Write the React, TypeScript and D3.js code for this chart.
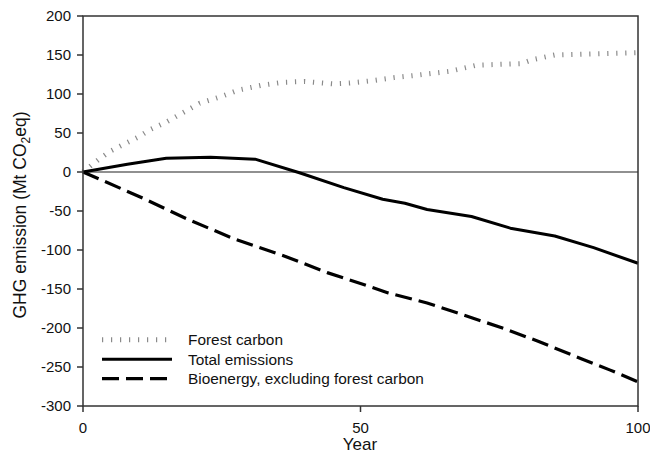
import React from "react";
import * as d3 from "d3";

const forestYears = [0, 3, 5, 10, 12, 15, 21, 25, 28, 32, 36, 40, 45, 48, 52, 56, 60, 66, 71, 75, 79, 81, 85, 90, 95, 100];
const forestValues = [0, 17, 27, 45, 54, 64, 88, 97, 105, 111, 115, 116, 113, 114, 117, 121, 124, 129, 137, 138, 139, 144, 150, 151, 152, 153];

const totalYears = [0, 8, 15, 23, 31, 39, 47, 54, 58, 62, 70, 77, 85, 92, 100];
const totalValues = [0, 10, 17.5, 19, 16.5, -1, -20, -35, -40, -48, -57, -72, -82, -97, -117];

const bioYears = [0, 10, 19, 27, 31, 36, 44, 50, 55, 62, 68, 76, 82, 90, 95, 100];
const bioValues = [0, -31, -61, -85, -95, -107, -129, -143, -155, -168, -182, -201, -217, -240, -254, -269];

const yTicks = [200, 150, 100, 50, 0, -50, -100, -150, -200, -250, -300];
const xTicks = [0, 50, 100];

const legendLabels = ["Forest carbon", "Total emissions", "Bioenergy, excluding forest carbon"];

export default function App() {
  const W = 650, H = 454;
  const x = d3.scaleLinear().domain([0, 100]).range([83, 638]);
  const y = d3.scaleLinear().domain([-300, 200]).range([406, 16]);
  const line = d3.line<[number, number]>().x(d => x(d[0])).y(d => y(d[1]));
  const zip = (a: number[], b: number[]) => a.map((v, i) => [v, b[i]] as [number, number]);
  const font = "'Liberation Sans', Arial, sans-serif";
  const axisColor = "#333";

  const styles = [
    { stroke: "#8a8a8a", width: 5, dash: "1.2 7.8" },
    { stroke: "#000", width: 3, dash: "none" },
    { stroke: "#000", width: 3.2, dash: "17 7" },
  ];
  const series = [zip(forestYears, forestValues), zip(totalYears, totalValues), zip(bioYears, bioValues)];
  const legendY = [y(-215), y(-240), y(-265)];

  return (
    <svg width={W} height={H} style={{ position: "absolute", left: 0, top: 0, background: "#fff" }} fontFamily={font}>
      <rect x={0} y={0} width={W} height={H} fill="#fff" />
      <line x1={x(0)} x2={x(100)} y1={y(0)} y2={y(0)} stroke="#222" strokeWidth={1.2} />
      {series.map((s, i) => (
        <path key={i} d={line(s) || ""} fill="none" stroke={styles[i].stroke} strokeWidth={styles[i].width}
          strokeDasharray={styles[i].dash} strokeLinejoin="round" />
      ))}
      <rect x={x(0)} y={y(200)} width={x(100) - x(0)} height={y(-300) - y(200)} fill="none" stroke={axisColor} strokeWidth={1.5} />
      {yTicks.map(t => (
        <g key={t}>
          <line x1={x(0) - 6} x2={x(0)} y1={y(t)} y2={y(t)} stroke={axisColor} strokeWidth={1.5} />
          <text x={71} y={y(t)} dy="0.35em" textAnchor="end" fontSize={15} fill="#111">{t}</text>
        </g>
      ))}
      {xTicks.map(t => (
        <g key={t}>
          <line x1={x(t)} x2={x(t)} y1={y(-300)} y2={y(-300) + 6} stroke={axisColor} strokeWidth={1.5} />
          <text x={x(t)} y={433} textAnchor="middle" fontSize={15} fill="#111">{t}</text>
        </g>
      ))}
      <text x={360} y={450} textAnchor="middle" fontSize={17} fill="#111">Year</text>
      <text transform={`translate(26, ${(y(200) + y(-300)) / 2 + 4}) rotate(-90)`} textAnchor="middle" fontSize={17.5} fill="#111">
        GHG emission (Mt CO<tspan fontSize={12} dy={4}>2</tspan><tspan dy={-4}>eq)</tspan>
      </text>
      {legendLabels.map((lab, i) => (
        <g key={lab}>
          <line x1={102} x2={172} y1={legendY[i]} y2={legendY[i]} stroke={styles[i].stroke}
            strokeWidth={styles[i].width} strokeDasharray={styles[i].dash} />
          <text x={188} y={legendY[i]} dy="0.35em" fontSize={15.4} fill="#111">{lab}</text>
        </g>
      ))}
    </svg>
  );
}
